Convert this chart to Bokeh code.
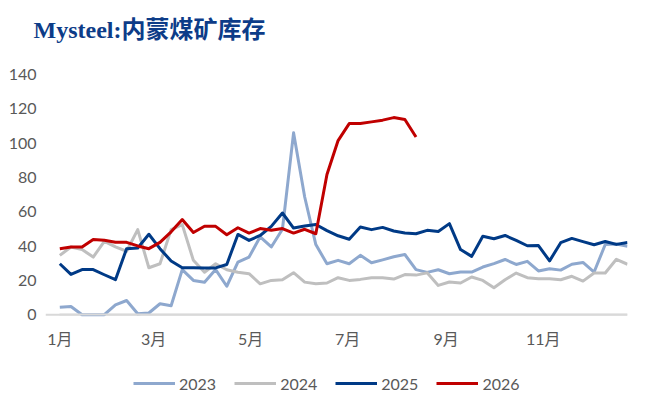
from bokeh.plotting import figure
from bokeh.models import Range1d, FixedTicker, Legend, LegendItem, Span
from bokeh.embed import file_html
from bokeh.resources import INLINE

# weekly data (week index 0..51)
weeks = list(range(52))
s2023 = [4.3, 4.8, 0, 0, 0, 5.8, 8.3, 0.6, 1.0, 6.4, 5.2, 26.3, 20.0, 18.9, 26.3, 16.6,
         30.6, 33.6, 45.4, 39.5, 49.8, 106.0, 68.6, 40.9, 29.7, 31.7, 29.7, 34.6, 30.3, 32.0,
         33.8, 35.1, 26.3, 24.7, 26.2, 23.9, 24.9, 24.9, 27.8, 29.8, 32.2, 29.3, 31.1, 25.5,
         26.8, 26.0, 29.4, 30.5, 24.9, 40.9, 41.2, 39.9]
s2024 = [34.6, 39.5, 38.0, 33.6, 42.7, 39.5, 37.0, 49.6, 27.4, 29.7, 49.6, 52.5, 31.7, 24.8,
         29.7, 26.2, 24.8, 23.9, 18.0, 20.0, 20.4, 24.5, 19.0, 18.1, 18.5, 21.6, 20.0, 20.6,
         21.6, 21.5, 20.8, 23.4, 23.1, 24.4, 17.1, 19.1, 18.5, 22.0, 20.0, 15.7, 20.4, 24.3,
         21.6, 21.0, 21.0, 20.4, 22.4, 19.6, 24.3, 24.3, 32.3, 29.4]
s2025 = [29.7, 23.5, 26.3, 26.3, 23.3, 20.4, 38.5, 38.9, 46.9, 38.5, 31.3, 27.4, 27.4, 27.3,
         27.3, 29.3, 46.8, 43.3, 46.2, 51.5, 59.3, 50.5, 51.7, 52.6, 49.0, 46.0, 44.0, 51.1,
         49.6, 50.9, 48.8, 47.6, 47.2, 49.2, 48.5, 53.1, 38.0, 34.0, 45.7, 44.3, 46.2, 43.3,
         40.2, 40.3, 31.4, 42.0, 44.5, 42.6, 40.8, 42.7, 41.0, 42.1]
s2026 = [38.5, 39.5, 39.5, 43.9, 43.4, 42.2, 42.2, 40.1, 38.5, 42.2, 48.3, 55.5, 47.9, 51.6,
         51.5, 46.6, 50.7, 47.6, 50.2, 49.2, 50.2, 47.6, 49.8, 47.2, 81.7, 101.5, 111.4, 111.4,
         112.4, 113.4, 114.9, 113.8, 103.6]

month_start_days = [0, 59, 120, 181, 243, 304]
month_labels = ["1月", "3月", "5月", "7月", "9月", "11月"]
y_ticks = [0, 20, 40, 60, 80, 100, 120, 140]

series = [("2023", s2023, "#8EA8CE"), ("2024", s2024, "#BFBFBF"),
          ("2025", s2025, "#003A86"), ("2026", s2026, "#C00000")]

# frame extends around the data area to hold the month labels and legend
p = figure(frame_width=582, frame_height=351, output_backend="svg", toolbar_location=None,
           x_range=Range1d(-9, 357), y_range=Range1d(-52.9, 151.67),
           min_border_left=45, min_border_right=15, min_border_top=54, min_border_bottom=0)
p.outline_line_color = None
p.xgrid.visible = False
p.ygrid.visible = False
p.background_fill_color = "white"
p.border_fill_color = "white"

# horizontal zero line (category axis line)
p.add_layout(Span(location=0, dimension="width", line_color="#D9D9D9",
                  line_width=2, level="underlay"))

items = []
for name, vals, col in series:
    xs = [7 * w for w in weeks[:len(vals)]]
    r = p.line(xs, vals, line_color=col, line_width=3, line_join="round")
    items.append(LegendItem(label=name, renderers=[r]))

font = "Lato, 'Noto Sans CJK SC', sans-serif"

p.xaxis.fixed_location = 0
p.xaxis.bounds = (0, 357)
p.xaxis.ticker = FixedTicker(ticks=month_start_days)
p.xaxis.major_label_overrides = {d: l for d, l in zip(month_start_days, month_labels)}
p.xaxis.axis_line_color = "#D9D9D9"
p.xaxis.axis_line_width = 2
p.xaxis.major_tick_line_color = None
p.xaxis.minor_tick_line_color = None
p.xaxis.major_label_text_font = font
p.xaxis.major_label_text_font_size = "16px"
p.xaxis.major_label_text_color = "#595959"
p.xaxis.major_label_standoff = 8

p.yaxis.ticker = FixedTicker(ticks=y_ticks)
p.yaxis.axis_line_color = None
p.yaxis.major_tick_line_color = None
p.yaxis.minor_tick_line_color = None
p.yaxis.major_label_text_font = font
p.yaxis.major_label_text_font_size = "16px"
p.yaxis.major_label_text_color = "#595959"
p.yaxis.major_label_standoff = 3

p.title.text = "Mysteel:内蒙煤矿库存"
p.title.text_font = "'Liberation Serif', 'Noto Sans CJK SC', serif"
p.title.text_font_style = "bold"
p.title.text_font_size = "24px"
p.title.text_color = "#0D3C88"
p.title.align = "left"
p.title.offset = -12
p.title.standoff = 24

legend = Legend(items=items, orientation="horizontal", location=(88, 12),
                glyph_width=42, glyph_height=20, label_standoff=4, spacing=18,
                padding=0, margin=0, border_line_color=None, background_fill_alpha=0,
                label_text_font=font, label_text_font_size="16px", label_text_color="#595959")
p.add_layout(legend, "center")

open("out.html", "w").write(file_html(p, INLINE))
